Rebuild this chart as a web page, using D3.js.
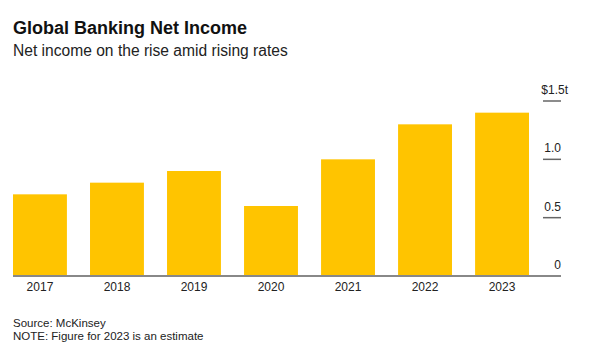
<!DOCTYPE html>
<html>
<head>
<meta charset="utf-8">
<script src="https://cdn.jsdelivr.net/npm/d3@7"></script>
<style>
  body { margin: 0; background: #fff; }
  svg { display: block; font-family: "Liberation Sans", Arial, sans-serif; }
</style>
</head>
<body>
<div class="svg-container"></div>
<script>
//Data
const years = ['2017', '2018', '2019', '2020', '2021', '2022', '2023'];
const netIncome = [0.70, 0.80, 0.90, 0.60, 1.00, 1.30, 1.40];
const tickValues = [0, 0.5, 1.0, 1.5];
const tickLabels = ['0', '0.5', '1.0', '$1.5t'];

const width = 599, height = 350;

const svg = d3.select('.svg-container')
    .append('svg')
    .attr('width', width)
    .attr('height', height);

//Header
svg.append('text')
    .attr('x', 13).attr('y', 34)
    .attr('font-size', 18).attr('font-weight', 'bold')
    .attr('fill', '#111')
    .text('Global Banking Net Income');

svg.append('text')
    .attr('x', 13).attr('y', 55.5)
    .attr('font-size', 15.6)
    .attr('fill', '#222')
    .text('Net income on the rise amid rising rates');

//Scales
const xScale = d3.scaleBand()
    .domain(years)
    .range([13, 529])
    .paddingInner(0.3)
    .paddingOuter(0);

const yScale = d3.scaleLinear()
    .domain([0, 1.5])
    .range([276, 101]);

//Bars
svg.selectAll('.bar')
    .data(years)
    .enter()
    .append('rect')
    .attr('class', 'bar')
    .attr('x', d => xScale(d))
    .attr('y', (d, i) => yScale(netIncome[i]))
    .attr('width', xScale.bandwidth())
    .attr('height', (d, i) => yScale(0) - yScale(netIncome[i]))
    .attr('fill', '#FFC400');

//Y axis on the right: short tick lines, labels above them
const yAxis = svg.append('g').attr('class', 'y axis');
yAxis.selectAll('line')
    .data(tickValues)
    .enter()
    .append('line')
    .attr('x1', 543).attr('x2', 561)
    .attr('y1', d => yScale(d)).attr('y2', d => yScale(d))
    .attr('stroke', d => d === 0 ? 'none' : '#666')
    .attr('stroke-width', 1.5);

yAxis.selectAll('text')
    .data(tickValues)
    .enter()
    .append('text')
    .attr('x', (d, i) => i === tickValues.length - 1 ? 568 : 561)
    .attr('y', d => yScale(d) - 7)
    .attr('text-anchor', 'end')
    .attr('font-size', 12)
    .attr('fill', '#222')
    .text((d, i) => tickLabels[i]);

//Baseline
svg.append('line')
    .attr('x1', 13).attr('x2', 561)
    .attr('y1', yScale(0)).attr('y2', yScale(0))
    .attr('stroke', '#888')
    .attr('stroke-width', 2);

//X axis labels
const xAxis = d3.axisBottom(xScale).tickSize(0).tickPadding(0);
const xAxisDraw = svg.append('g')
    .attr('class', 'x axis')
    .attr('transform', `translate(0, ${yScale(0) + 6})`)
    .call(xAxis);
xAxisDraw.select('.domain').remove();
xAxisDraw.selectAll('text')
    .attr('font-size', 12)
    .attr('font-family', '"Liberation Sans", Arial, sans-serif')
    .attr('fill', '#222');

//Footer
svg.append('text')
    .attr('x', 13).attr('y', 327)
    .attr('font-size', 11.5)
    .attr('fill', '#222')
    .text('Source: McKinsey');

svg.append('text')
    .attr('x', 13).attr('y', 339.5)
    .attr('font-size', 11.5)
    .attr('fill', '#222')
    .text('NOTE: Figure for 2023 is an estimate');
</script>
</body>
</html>
